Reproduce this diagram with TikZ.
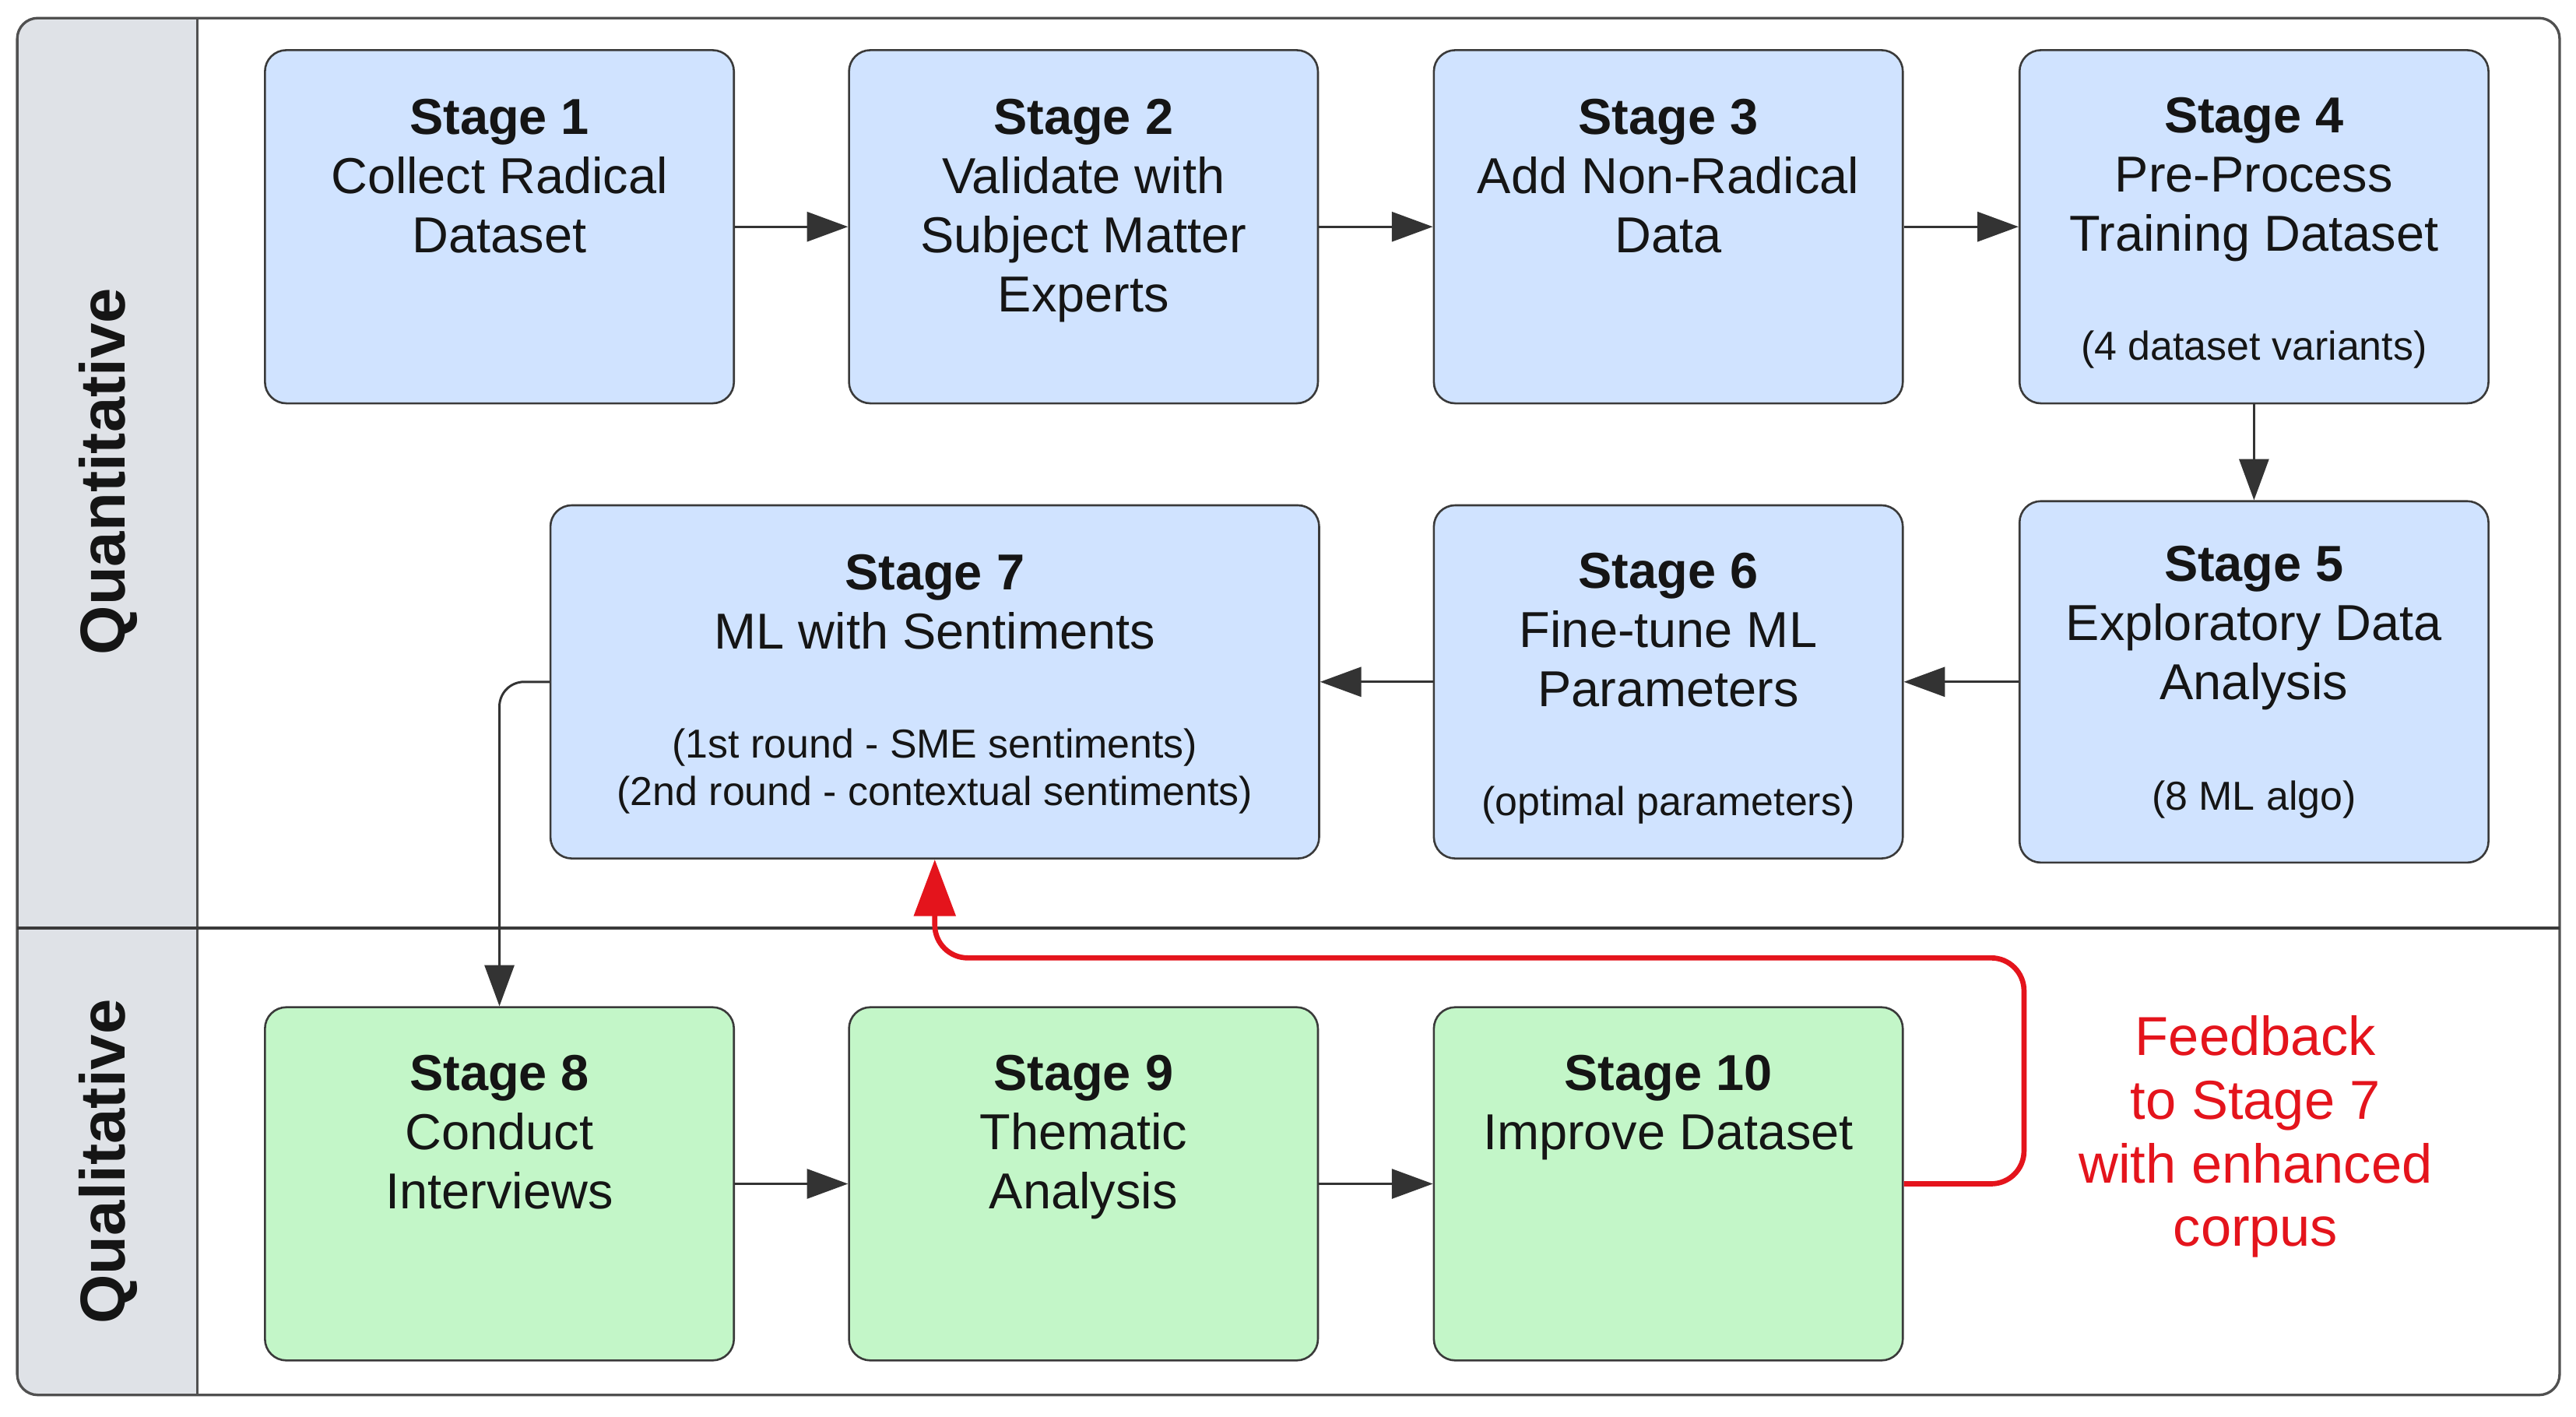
\documentclass[tikz,border=0pt]{standalone}
\usepackage{fontspec}
\setmainfont{Liberation Sans}
\usetikzlibrary{arrows.meta}
\definecolor{boxblue}{HTML}{D0E3FF}
\definecolor{boxgreen}{HTML}{C3F6C8}
\definecolor{lanegray}{HTML}{DFE2E7}
\definecolor{edgegray}{HTML}{3A3A3A}
\definecolor{linegray}{HTML}{333333}
\definecolor{framegray}{HTML}{505050}
\definecolor{fbred}{HTML}{E4141C}
\definecolor{textblack}{HTML}{151515}
\begin{document}
\begin{tikzpicture}[x=0.02cm,y=-0.02cm,
  stagebox/.style={draw=edgegray, line width=0.7pt, rounded corners=0.26cm,
    minimum width=5.71cm, minimum height=4.3cm, inner sep=0pt},
  bluebox/.style={stagebox, fill=boxblue},
  greenbox/.style={stagebox, fill=boxgreen},
  stagetext/.style={anchor=north, align=center, inner sep=0pt,
    font=\fontsize{17.5}{20.5}\selectfont, text=textblack},
  smalltext/.style={anchor=north, align=center, inner sep=0pt,
    font=\fontsize{14}{16.5}\selectfont, text=textblack},
  fbtext/.style={anchor=north, align=center, inner sep=0pt,
    font=\fontsize{19}{22}\selectfont, text=fbred},
  flow/.style={draw=linegray, line width=0.8pt, -{Triangle[length=0.5cm,width=0.36cm]}},
  feedback/.style={draw=fbred, line width=1.8pt, -{Triangle[length=0.69cm,width=0.5cm]},
    rounded corners=0.4cm},
  lanelabel/.style={rotate=90, font=\fontsize{22}{26}\selectfont\bfseries,
    text=textblack, inner sep=0pt},
]
\fill[white] (0,0) rectangle (1568,862);
\useasboundingbox (0,0) rectangle (1568,862);
% lanes
\fill[lanegray, rounded corners=0.25cm] (10.5,11) rectangle (140,849);
\fill[white] (120,11.5) rectangle (141,848.5);
\draw[framegray, line width=0.9pt, rounded corners=0.25cm] (10.5,11) rectangle (1558,849);
\draw[framegray, line width=0.9pt] (120,11) -- (120,849);
\draw[edgegray, line width=1.1pt] (10.5,565) -- (1558,565);
\node[lanelabel] (lquant) at (66,287) {Quantitative};
\node[lanelabel] (lqual) at (66,707) {Qualitative};

% row 1
\node[bluebox] (s1) at (304,138) {};
\node[bluebox] (s2) at (659.5,138) {};
\node[bluebox] (s3) at (1015.5,138) {};
\node[bluebox] (s4) at (1372,138) {};
% row 2
\node[bluebox, minimum width=9.36cm] (s7) at (569,415) {};
\node[bluebox] (s6) at (1015.5,415) {};
\node[bluebox, minimum height=4.4cm] (s5) at (1372,415) {};
% row 3
\node[greenbox] (s8) at (304,720.5) {};
\node[greenbox] (s9) at (659.5,720.5) {};
\node[greenbox] (s10) at (1015.5,720.5) {};

% texts
\node[stagetext] (t1) at (304,60) {\textbf{Stage 1}\\Collect Radical\\Dataset};
\node[stagetext] (t2) at (659.5,60) {\textbf{Stage 2}\\Validate with\\Subject Matter\\Experts};
\node[stagetext] (t3) at (1015.5,60) {\textbf{Stage 3}\\Add Non-Radical\\Data};
\node[stagetext] (t4) at (1372,59) {\textbf{Stage 4}\\Pre-Process\\Training Dataset};
\node[smalltext] (u4) at (1372,201) {(4 dataset variants)};
\node[stagetext] (t5) at (1372,332) {\textbf{Stage 5}\\Exploratory Data\\Analysis};
\node[smalltext] (u5) at (1372,475) {(8 ML algo)};
\node[stagetext] (t6) at (1015.5,336) {\textbf{Stage 6}\\Fine-tune ML\\Parameters};
\node[smalltext] (u6) at (1015.5,478) {(optimal parameters)};
\node[stagetext] (t7) at (569,337) {\textbf{Stage 7}\\ML with Sentiments};
\node[smalltext] (u7) at (569,443) {(1st round - SME sentiments)\\(2nd round - contextual sentiments)};
\node[stagetext] (t8) at (304,642) {\textbf{Stage 8}\\Conduct\\Interviews};
\node[stagetext] (t9) at (659.5,642) {\textbf{Stage 9}\\Thematic\\Analysis};
\node[stagetext] (t10) at (1015.5,642) {\textbf{Stage 10}\\Improve Dataset};
\node[fbtext] (fb) at (1373,618) {Feedback\\to Stage 7\\with enhanced\\corpus};

% connectors
\draw[flow] (s1.east) -- (s2.west);
\draw[flow] (s2.east) -- (s3.west);
\draw[flow] (s3.east) -- (s4.west);
\draw[flow] (s4.south) -- (s5.north);
\draw[flow] (s5.west) -- (s6.east);
\draw[flow] (s6.west) -- (s7.east);
\draw[flow, rounded corners=0.3cm] (s7.west) -| (s8.north);
\draw[flow] (s8.east) -- (s9.west);
\draw[flow] (s9.east) -- (s10.west);
\coordinate (fbc) at (1232,583);
\draw[feedback] (s10.east) -| (fbc) -| (s7.south);
\end{tikzpicture}
\end{document}
